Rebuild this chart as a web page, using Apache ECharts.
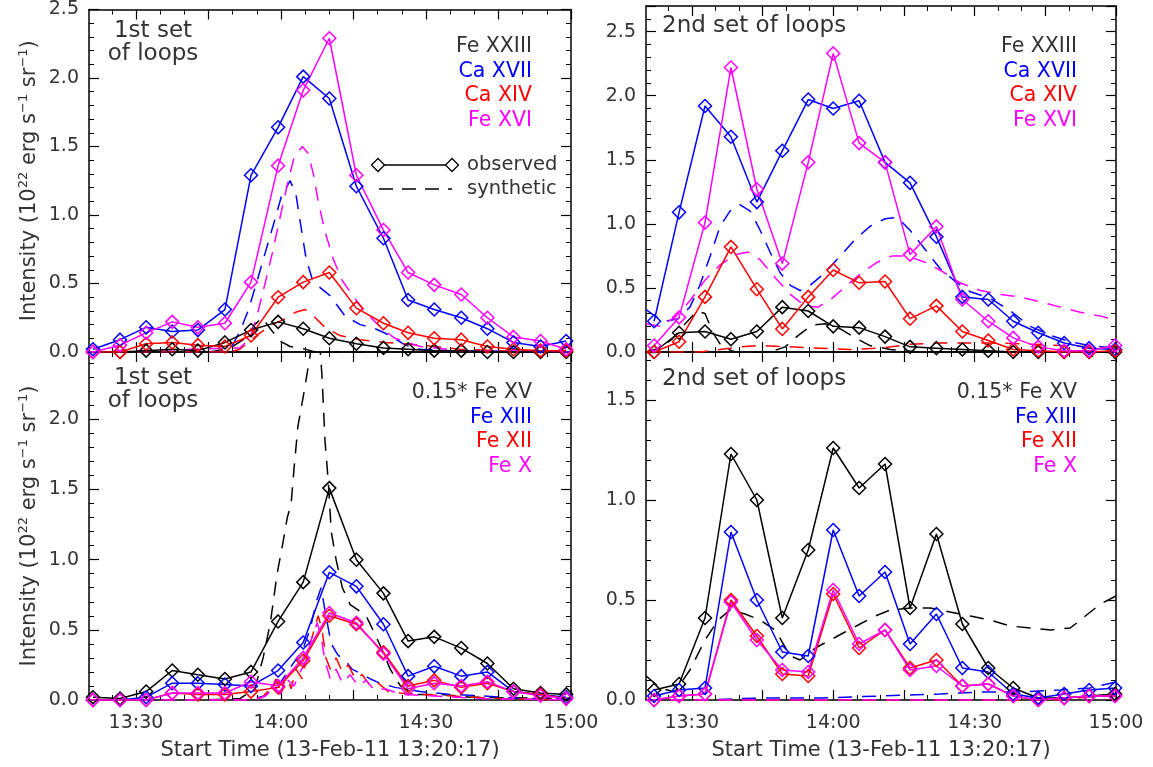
<!DOCTYPE html>
<html>
<head>
<meta charset="utf-8">
<script src="https://cdn.jsdelivr.net/npm/echarts@6/dist/echarts.min.js"></script>
<style>html,body{margin:0;padding:0;background:#fff}#chart{width:1153px;height:767px}</style>
</head>
<body>
<div id="chart"></div>
<script>
var chart = echarts.init(document.getElementById('chart'), null, { renderer: 'canvas' });

// time in minutes after 13:00
var timesLeft = [21.1, 26.7, 32.1, 37.5, 42.8, 48.4, 53.8, 59.4, 64.6, 70.0, 75.6, 81.2, 86.3, 91.7, 97.3, 102.7, 108.1, 113.7, 119.0];
var timesRight = [22.0, 27.3, 32.8, 38.3, 43.8, 49.2, 54.7, 60.0, 65.5, 71.0, 76.3, 81.9, 87.4, 92.9, 98.2, 103.5, 109.0, 114.3, 119.8];

// observed, 1st set, hot lines
var tlFeXXIII = [0.0, 0.0, 0.01, 0.02, 0.01, 0.07, 0.16, 0.22, 0.17, 0.10, 0.06, 0.03, 0.02, 0.01, 0.01, 0.0, 0.0, 0.0, 0.0];
var tlCaXVII = [0.02, 0.09, 0.18, 0.15, 0.16, 0.31, 1.29, 1.64, 2.01, 1.85, 1.21, 0.83, 0.38, 0.31, 0.25, 0.17, 0.07, 0.04, 0.08];
var tlCaXIV = [0.0, 0.0, 0.06, 0.07, 0.05, 0.04, 0.12, 0.40, 0.51, 0.58, 0.32, 0.21, 0.14, 0.10, 0.09, 0.04, 0.02, 0.01, 0.01];
var tlFeXVI = [0.0, 0.05, 0.14, 0.22, 0.18, 0.21, 0.51, 1.36, 1.91, 2.29, 1.29, 0.89, 0.58, 0.49, 0.42, 0.25, 0.11, 0.08, 0.02];

// observed, 2nd set, hot lines
var trFeXXIII = [0.0, 0.15, 0.16, 0.10, 0.16, 0.35, 0.32, 0.20, 0.19, 0.12, 0.04, 0.03, 0.02, 0.01, 0.0, 0.0, 0.0, 0.0, 0.0];
var trCaXVII = [0.24, 1.09, 1.92, 1.68, 1.17, 1.57, 1.97, 1.90, 1.96, 1.48, 1.32, 0.90, 0.43, 0.41, 0.24, 0.15, 0.07, 0.03, 0.02];
var trCaXIV = [0.0, 0.08, 0.43, 0.82, 0.49, 0.18, 0.43, 0.64, 0.54, 0.55, 0.26, 0.36, 0.16, 0.09, 0.02, 0.01, 0.0, 0.0, 0.01];
var trFeXVI = [0.05, 0.27, 1.01, 2.22, 1.27, 0.69, 1.48, 2.33, 1.63, 1.48, 0.76, 0.98, 0.41, 0.24, 0.11, 0.04, 0.01, 0.01, 0.05];

// observed, 1st set, cool lines
var blFeXV = [0.02, 0.01, 0.06, 0.21, 0.18, 0.15, 0.20, 0.56, 0.84, 1.51, 1.00, 0.76, 0.42, 0.45, 0.37, 0.26, 0.08, 0.05, 0.04];
var blFeXIII = [0.0, 0.0, 0.02, 0.12, 0.12, 0.11, 0.10, 0.21, 0.41, 0.91, 0.81, 0.54, 0.17, 0.24, 0.17, 0.20, 0.06, 0.04, 0.02];
var blFeXII = [0.0, 0.0, 0.0, 0.05, 0.04, 0.04, 0.06, 0.09, 0.28, 0.60, 0.54, 0.34, 0.10, 0.14, 0.09, 0.12, 0.06, 0.04, 0.01];
var blFeX = [0.0, 0.0, 0.0, 0.05, 0.05, 0.05, 0.13, 0.10, 0.30, 0.62, 0.55, 0.33, 0.08, 0.12, 0.10, 0.13, 0.06, 0.03, 0.01];

// observed, 2nd set, cool lines
var brFeXV = [0.05, 0.08, 0.41, 1.23, 1.00, 0.41, 0.75, 1.26, 1.06, 1.18, 0.46, 0.83, 0.38, 0.16, 0.06, 0.01, 0.01, 0.02, 0.03];
var brFeXIII = [0.02, 0.05, 0.06, 0.84, 0.50, 0.24, 0.22, 0.85, 0.52, 0.64, 0.28, 0.43, 0.16, 0.14, 0.03, 0.01, 0.03, 0.05, 0.06];
var brFeXII = [0.0, 0.02, 0.03, 0.50, 0.32, 0.13, 0.12, 0.53, 0.26, 0.35, 0.16, 0.20, 0.07, 0.08, 0.02, 0.0, 0.01, 0.02, 0.02];
var brFeX = [0.0, 0.02, 0.03, 0.49, 0.30, 0.15, 0.14, 0.55, 0.28, 0.35, 0.15, 0.17, 0.07, 0.08, 0.02, 0.0, 0.01, 0.02, 0.02];

// synthetic curves [minutes, intensity]
var tlSynFeXXIII = [[20.3, 0], [45.3, 0], [49.5, 0.03], [52.6, 0.1], [54.6, 0.2], [56.1, 0.25], [57.8, 0.17], [59.8, 0.08], [61.9, 0.04], [64.0, 0.03], [67.1, 0.0], [72.2, 0.0], [120, 0]];
var tlSynCaXVII = [[20.3, 0], [47.4, 0], [50.0, 0.05], [51.5, 0.15], [53.2, 0.3], [54.9, 0.5], [56.7, 0.72], [58.6, 0.95], [60.2, 1.15], [61.9, 1.25], [63.1, 1.15], [64.2, 0.9], [65.2, 0.68], [66.4, 0.54], [68.1, 0.47], [70.2, 0.41], [73.3, 0.26], [76.4, 0.2], [79.5, 0.17], [82.6, 0.12], [85.7, 0.05], [88.8, 0.02], [95.0, 0.01], [120, 0]];
var tlSynCaXIV = [[20.3, 0], [49.5, 0], [51.5, 0.02], [53.6, 0.08], [55.7, 0.14], [58.2, 0.2], [60.7, 0.24], [63.0, 0.29], [65.0, 0.31], [67.1, 0.25], [69.1, 0.18], [72.2, 0.12], [76.4, 0.09], [81.6, 0.07], [88.8, 0.05], [97.1, 0.02], [105.4, 0.01], [120, 0]];
var tlSynFeXVI = [[20.3, 0], [51.5, 0.03], [53.6, 0.1], [55.3, 0.3], [56.7, 0.5], [58.2, 0.72], [59.8, 0.98], [61.3, 1.22], [62.7, 1.42], [64.4, 1.5], [65.6, 1.45], [66.7, 1.3], [67.7, 1.1], [69.1, 0.88], [70.8, 0.68], [72.7, 0.52], [74.7, 0.42], [76.8, 0.32], [78.9, 0.24], [80.9, 0.17], [83.6, 0.1], [88.8, 0.04], [97.1, 0.01], [120, 0]];

var trSynFeXXIII = [[20.3, 0.0], [23.3, 0.03], [25.8, 0.1], [28.6, 0.22], [31.1, 0.32], [32.8, 0.3], [34.5, 0.15], [36.4, 0.04], [39.2, 0.0], [46.6, 0.0], [49.8, 0.04], [52.6, 0.13], [55.5, 0.21], [58.3, 0.22], [61.5, 0.18], [64.7, 0.11], [67.8, 0.05], [72.1, 0.02], [78.5, 0.0], [120, 0.0]];
var trSynCaXVII = [[20.3, 0.33], [22.2, 0.28], [24.3, 0.24], [27.1, 0.26], [29.6, 0.35], [31.7, 0.52], [33.9, 0.75], [36.0, 0.98], [38.1, 1.1], [40.2, 1.15], [42.4, 1.1], [44.5, 0.95], [46.6, 0.78], [48.7, 0.62], [50.9, 0.52], [53.0, 0.48], [55.1, 0.52], [58.3, 0.62], [61.5, 0.75], [64.7, 0.88], [67.8, 0.98], [71.0, 1.04], [73.6, 1.05], [76.3, 0.95], [79.5, 0.8], [82.7, 0.65], [85.9, 0.55], [89.1, 0.47], [93.3, 0.42], [97.6, 0.32], [101.8, 0.2], [106.1, 0.13], [110.3, 0.08], [114.5, 0.05], [120, 0.03]];
var trSynCaXIV = [[20.3, 0.0], [31.7, 0.0], [36.0, 0.02], [40.2, 0.04], [44.5, 0.05], [50.9, 0.04], [57.2, 0.03], [63.6, 0.02], [70.0, 0.03], [76.3, 0.06], [82.7, 0.07], [89.1, 0.07], [95.4, 0.07], [101.8, 0.06], [108.2, 0.05], [114.5, 0.04], [120, 0.03]];
var trSynFeXVI = [[20.3, 0.22], [23.3, 0.2], [26.4, 0.27], [29.6, 0.4], [32.8, 0.56], [36.0, 0.68], [39.2, 0.76], [41.9, 0.78], [44.5, 0.72], [47.7, 0.58], [50.9, 0.45], [54.0, 0.36], [56.8, 0.35], [59.8, 0.42], [62.9, 0.52], [66.1, 0.62], [69.3, 0.7], [72.5, 0.75], [75.7, 0.75], [79.5, 0.7], [83.1, 0.63], [86.9, 0.54], [91.2, 0.48], [95.4, 0.45], [99.7, 0.43], [104.0, 0.39], [108.2, 0.35], [112.4, 0.31], [116.7, 0.28], [120, 0.25]];

var blSynFeXV = [[20.3, 0.0], [43.3, 0.0], [51.5, 0.01], [54.6, 0.08], [56.3, 0.3], [57.8, 0.55], [59.2, 0.9], [60.4, 1.12], [61.3, 1.3], [62.1, 1.4], [62.7, 1.65], [63.5, 1.95], [64.8, 2.2], [66.0, 2.45], [67.1, 2.75], [67.9, 2.6], [68.5, 2.3], [69.1, 1.85], [69.8, 1.55], [70.4, 1.2], [71.4, 1.0], [72.7, 0.8], [74.3, 0.68], [76.0, 0.64], [77.6, 0.6], [79.3, 0.48], [80.9, 0.36], [82.6, 0.22], [84.7, 0.1], [87.8, 0.04], [92.9, 0.04], [99.2, 0.02], [120, 0.01]];
var blSynFeXIII = [[20.3, 0], [53.6, 0], [56.7, 0.03], [59.8, 0.12], [62.3, 0.25], [64.4, 0.35], [66.0, 0.5], [67.3, 0.7], [68.3, 0.8], [69.3, 0.6], [70.4, 0.4], [71.8, 0.32], [73.3, 0.28], [74.7, 0.22], [76.4, 0.19], [78.5, 0.15], [80.5, 0.12], [83.6, 0.09], [88.8, 0.06], [95.0, 0.04], [101.2, 0.03], [109.5, 0.01], [120, 0.01]];
var blSynFeXII = [[20.3, 0], [53.6, 0], [56.1, 0.02], [57.8, 0.08], [59.0, 0.15], [60.0, 0.05], [61.1, 0.18], [62.1, 0.08], [63.1, 0.22], [64.4, 0.15], [65.6, 0.35], [66.7, 0.48], [67.7, 0.6], [68.5, 0.5], [69.3, 0.3], [70.2, 0.22], [71.4, 0.3], [72.7, 0.2], [73.9, 0.25], [75.4, 0.15], [76.8, 0.18], [78.5, 0.1], [80.1, 0.12], [82.2, 0.06], [84.7, 0.05], [88.8, 0.04], [95.0, 0.03], [105.4, 0.01], [120, 0]];
var blSynFeX = [[20.3, 0], [54.6, 0], [56.9, 0.03], [58.6, 0.1], [59.8, 0.04], [61.5, 0.14], [62.7, 0.1], [64.0, 0.2], [65.2, 0.28], [66.4, 0.45], [67.5, 0.55], [68.3, 0.45], [69.1, 0.28], [70.2, 0.15], [71.4, 0.22], [72.7, 0.12], [74.3, 0.18], [76.0, 0.1], [77.6, 0.14], [79.3, 0.07], [81.6, 0.08], [84.7, 0.04], [90.9, 0.03], [101.2, 0.01], [120, 0]];

var brSynFeXV = [[20.3, 0.12], [23.3, 0.06], [26.4, 0.04], [29.6, 0.15], [32.8, 0.3], [35.6, 0.4], [38.1, 0.45], [41.3, 0.43], [44.5, 0.4], [47.7, 0.35], [50.9, 0.22], [53.0, 0.2], [56.2, 0.26], [59.4, 0.3], [62.5, 0.34], [65.7, 0.38], [68.9, 0.42], [72.1, 0.45], [76.3, 0.46], [80.6, 0.46], [84.8, 0.44], [89.1, 0.42], [93.3, 0.4], [97.6, 0.37], [101.8, 0.36], [106.1, 0.35], [110.3, 0.36], [113.5, 0.42], [116.7, 0.48], [120, 0.52]];
var brSynFeXIII = [[20.3, 0.0], [31.7, 0.0], [44.5, 0.01], [57.2, 0.01], [70.0, 0.02], [82.7, 0.03], [91.2, 0.04], [99.7, 0.04], [108.2, 0.05], [114.5, 0.06], [120, 0.09]];
var brSynFeXII = [[20.3, 0.0], [80.0, 0.0], [108.2, 0.0], [120, 0.03]];
var brSynFeX = [[20.3, 0.0], [95.4, 0.0], [120, 0.02]];

var ionNames = [
    ['Fe XXIII', 'Ca XVII', 'Ca XIV', 'Fe XVI'],
    ['Fe XXIII', 'Ca XVII', 'Ca XIV', 'Fe XVI'],
    ['0.15* Fe XV', 'Fe XIII', 'Fe XII', 'Fe X'],
    ['0.15* Fe XV', 'Fe XIII', 'Fe XII', 'Fe X']
];
var colors = ['#000000', '#0000ff', '#ff0000', '#ff00ff'];
var yMaxes = [2.5, 2.7, 2.48, 1.74];

var observed = [
    [tlFeXXIII, tlCaXVII, tlCaXIV, tlFeXVI],
    [trFeXXIII, trCaXVII, trCaXIV, trFeXVI],
    [blFeXV, blFeXIII, blFeXII, blFeX],
    [brFeXV, brFeXIII, brFeXII, brFeX]
];
var synthetic = [
    [tlSynFeXXIII, tlSynCaXVII, tlSynCaXIV, tlSynFeXVI],
    [trSynFeXXIII, trSynCaXVII, trSynCaXIV, trSynFeXVI],
    [blSynFeXV, blSynFeXIII, blSynFeXII, blSynFeX],
    [brSynFeXV, brSynFeXIII, brSynFeXII, brSynFeX]
];

var FONT = '"DejaVu Sans", sans-serif';
var TXT = '#333';
var xMin = 20.28, xMax = 120;
var majorX = [30, 45, 60, 75, 90, 105, 120];
var minorX = [25, 35, 40, 50, 55, 65, 70, 80, 85, 95, 100, 110, 115];

var grids = [
    { left: 89, top: 6, width: 482, height: 346 },
    { left: 646, top: 6, width: 470, height: 346 },
    { left: 89, top: 352, width: 482, height: 348 },
    { left: 646, top: 352, width: 470, height: 348 }
];

function timeLabel(v) {
    var m = Math.round(v);
    var h = 13 + Math.floor(m / 60);
    var mm = m % 60;
    return h + ':' + (mm < 10 ? '0' + mm : mm);
}

var xAxes = [];
var yAxes = [];
grids.forEach(function (g, gi) {
    var bottomRow = gi >= 2;
    ['bottom', 'top'].forEach(function (pos) {
        // major ticks + frame
        xAxes.push({
            type: 'value', gridIndex: gi, position: pos, min: xMin, max: xMax,
            axisLine: { show: true, onZero: false, lineStyle: { color: '#000', width: 1.5 } },
            axisTick: { show: true, inside: true, length: 10, customValues: majorX, lineStyle: { color: '#000', width: 1.2 } },
            axisLabel: {
                show: pos === 'bottom' && bottomRow, customValues: [30, 60, 90, 120],
                formatter: timeLabel, color: TXT, fontSize: 19, fontFamily: FONT, margin: 14
            },
            splitLine: { show: false },
            name: (pos === 'bottom' && bottomRow) ? 'Start Time (13-Feb-11 13:20:17)' : '',
            nameLocation: 'middle', nameGap: 40,
            nameTextStyle: { color: TXT, fontSize: 21, fontFamily: FONT }
        });
        // minor ticks
        xAxes.push({
            type: 'value', gridIndex: gi, position: pos, min: xMin, max: xMax,
            axisLine: { show: false, onZero: false },
            axisTick: { show: true, inside: true, length: 5, customValues: minorX, lineStyle: { color: '#000', width: 1 } },
            axisLabel: { show: false },
            splitLine: { show: false }
        });
    });
    ['left', 'right'].forEach(function (pos) {
        var isLeft = pos === 'left';
        yAxes.push({
            type: 'value', gridIndex: gi, position: pos, min: 0, max: yMaxes[gi], interval: 0.5,
            axisLine: { show: true, onZero: false, lineStyle: { color: '#000', width: 1.5 } },
            axisTick: { show: true, inside: true, length: 10, lineStyle: { color: '#000', width: 1.2 } },
            minorTick: { show: true, splitNumber: 5, length: 5, lineStyle: { color: '#000', width: 1 } },
            axisLabel: {
                show: isLeft, showMaxLabel: yMaxes[gi] === 2.5 || yMaxes[gi] === 2.7 ? null : false,
                formatter: function (v) { return Math.abs(v - Math.round(v * 2) / 2) < 1e-6 ? v.toFixed(1) : ''; },
                color: TXT, fontSize: 19, fontFamily: FONT, margin: 10
            },
            splitLine: { show: false },
            minorSplitLine: { show: false },
            name: (isLeft && gi % 2 === 0) ? '{n|Intensity (10}{s|22}{n| erg s}{s|−1}{n| sr}{s|−1}{n|)}' : '',
            nameLocation: 'middle', nameGap: 47, nameRotate: 90,
            nameTextStyle: {
                rich: {
                    n: { color: TXT, fontSize: 21, fontFamily: FONT },
                    s: { color: TXT, fontSize: 13, fontFamily: FONT, padding: [0, 0, 12, 0] }
                }
            }
        });
    });
});

var series = [];
for (var gi = 0; gi < 4; gi++) {
    var times = gi % 2 === 0 ? timesLeft : timesRight;
    for (var k = 0; k < 4; k++) {
        var syn = synthetic[gi][k];
        series.push({
            type: 'line', name: ionNames[gi][k] + ' synthetic',
            xAxisIndex: gi * 4, yAxisIndex: gi * 2,
            data: syn, showSymbol: false, symbol: 'none',
            lineStyle: { color: colors[k], width: 1.5, type: [14, 10] },
            z: 2
        });
    }
    for (var k2 = 0; k2 < 4; k2++) {
        var obs = observed[gi][k2];
        series.push({
            type: 'line', name: ionNames[gi][k2],
            xAxisIndex: gi * 4, yAxisIndex: gi * 2,
            data: obs.map(function (v, i) { return [times[i], v]; }),
            symbol: 'diamond', symbolSize: 13, showSymbol: true,
            lineStyle: { color: colors[k2], width: 1.5 },
            itemStyle: { color: 'rgba(0,0,0,0)', borderColor: colors[k2], borderWidth: 1.5 },
            z: 3
        });
    }
}

var graphics = [];
function addText(text, x, y, color, align, size) {
    graphics.push({
        type: 'text', silent: true, z: 10,
        style: { text: text, x: x, y: y, fill: color, font: size + 'px ' + FONT, textAlign: align, textVerticalAlign: 'middle' }
    });
}
// panel titles
addText('1st set', 153, 31, TXT, 'center', 23);
addText('of loops', 153, 54, TXT, 'center', 23);
addText('2nd set of loops', 662, 26, TXT, 'left', 23);
addText('1st set', 153, 378, TXT, 'center', 23);
addText('of loops', 153, 401, TXT, 'center', 23);
addText('2nd set of loops', 662, 379, TXT, 'left', 23);
// ion lists
var legendX = [532, 1077, 532, 1077];
var legendY = [47, 47, 393, 393];
for (var p = 0; p < 4; p++) {
    for (var r = 0; r < 4; r++) {
        addText(ionNames[p][r], legendX[p], legendY[p] + r * 24.5, colors[r] === '#000000' ? TXT : colors[r], 'right', 20.5);
    }
}
// observed / synthetic key
function diamond(cx, cy) {
    return {
        type: 'polygon', silent: true, z: 10,
        shape: { points: [[cx, cy - 6.5], [cx + 6.5, cy], [cx, cy + 6.5], [cx - 6.5, cy]] },
        style: { fill: 'none', stroke: '#000', lineWidth: 1.3 }
    };
}
graphics.push({ type: 'line', silent: true, z: 10, shape: { x1: 384, y1: 165, x2: 446, y2: 165 }, style: { stroke: '#000', lineWidth: 1.3 } });
graphics.push(diamond(378, 165));
graphics.push(diamond(452, 165));
graphics.push({ type: 'line', silent: true, z: 10, shape: { x1: 379, y1: 189, x2: 452, y2: 189 }, style: { stroke: '#000', lineWidth: 1.3, lineDash: [14, 9] } });
addText('observed', 467, 165, TXT, 'left', 19.5);
addText('synthetic', 467, 189, TXT, 'left', 19.5);

chart.setOption({
    animation: false,
    backgroundColor: '#fff',
    grid: grids,
    xAxis: xAxes,
    yAxis: yAxes,
    series: series,
    graphic: graphics
});
</script>
</body>
</html>
